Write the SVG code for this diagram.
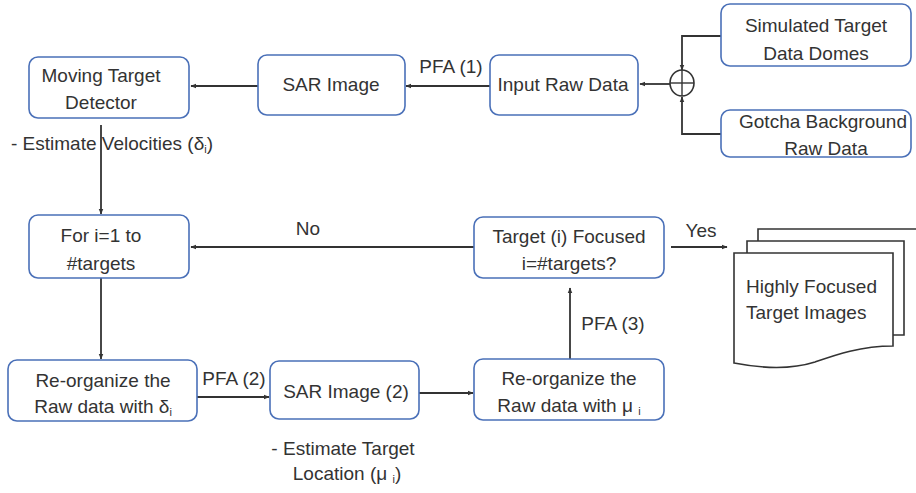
<svg xmlns="http://www.w3.org/2000/svg" width="916" height="493" viewBox="0 0 916 493">
<defs>
<style>
.box{fill:#fff;stroke:#4a70b8;stroke-width:1.6}
.t{font-family:"Liberation Sans",Arial,sans-serif;font-size:19px;fill:#333;text-anchor:middle}
.l{font-family:"Liberation Sans",Arial,sans-serif;font-size:19px;fill:#333}
.c{fill:none;stroke:#333;stroke-width:1.8}
.doc{fill:#fff;stroke:#333;stroke-width:1.6}
.sub{font-size:11px}
</style>
<marker id="ah" viewBox="0 0 10 10" refX="9" refY="5" markerWidth="6" markerHeight="6" orient="auto" markerUnits="userSpaceOnUse">
<path d="M0,1 L10,5 L0,9 z" fill="#333"/>
</marker>
</defs>
<rect width="916" height="493" fill="#fff"/>

<g id="connectors">
<line class="c" x1="258" y1="86" x2="191" y2="86" marker-end="url(#ah)"/>
<line class="c" x1="490" y1="86" x2="406" y2="86" marker-end="url(#ah)"/>
<line class="c" x1="670" y1="84" x2="640" y2="84" marker-end="url(#ah)"/>
<polyline class="c" points="721,36 682,36 682,70" marker-end="url(#ah)"/>
<polyline class="c" points="721,134 682,134 682,97" marker-end="url(#ah)"/>
<line class="c" x1="101" y1="125" x2="101" y2="214" marker-end="url(#ah)"/>
<line class="c" x1="101" y1="278" x2="101" y2="359" marker-end="url(#ah)"/>
<line class="c" x1="197" y1="397" x2="269" y2="397" marker-end="url(#ah)"/>
<line class="c" x1="419" y1="393" x2="473" y2="393" marker-end="url(#ah)"/>
<line class="c" x1="570" y1="359" x2="570" y2="288" marker-end="url(#ah)"/>
<line class="c" x1="474" y1="247" x2="191" y2="247" marker-end="url(#ah)"/>
<line class="c" x1="671" y1="247" x2="727" y2="247" marker-end="url(#ah)"/>
<text class="t" x="451" y="73">PFA (1)</text>
<text class="t" x="234" y="385">PFA (2)</text>
<text class="t" x="613" y="330">PFA (3)</text>
<text class="t" x="308" y="235">No</text>
<text class="t" x="701" y="237">Yes</text>
</g>

<g id="sum">
<ellipse cx="682" cy="83" rx="12" ry="13" fill="#fff" stroke="#333" stroke-width="1.6"/>
<line x1="670" y1="83" x2="694" y2="83" stroke="#333" stroke-width="1.4"/>
<line x1="682" y1="70" x2="682" y2="96" stroke="#333" stroke-width="1.4"/>
</g>

<g id="moving-target-detector">
<rect class="box" x="29" y="57" width="160" height="61" rx="9"/>
<text class="t" x="101" y="82">Moving Target</text>
<text class="t" x="101" y="109">Detector</text>
</g>
<g id="velocities-note">
<text class="l" x="11" y="150">- Estimate Velocities (δ<tspan class="sub" dy="3">i</tspan><tspan dy="-3">)</tspan></text>
</g>

<g id="sar-image">
<rect class="box" x="258" y="55" width="147" height="60" rx="9"/>
<text class="t" x="331" y="91">SAR Image</text>
</g>

<g id="input-raw-data">
<rect class="box" x="490" y="55" width="148" height="60" rx="9"/>
<text class="t" x="563" y="91">Input Raw Data</text>
</g>

<g id="simulated-target">
<rect class="box" x="721" y="4" width="190" height="62" rx="9"/>
<text class="t" x="816" y="32">Simulated Target</text>
<text class="t" x="816" y="60">Data Domes</text>
</g>

<g id="gotcha-background">
<rect class="box" x="721" y="110" width="190" height="47" rx="9"/>
<text class="t" x="823" y="128">Gotcha Background</text>
<text class="t" x="826" y="155">Raw Data</text>
</g>

<g id="for-loop">
<rect class="box" x="29" y="215" width="160" height="63" rx="9"/>
<text class="t" x="101" y="242">For i=1 to</text>
<text class="t" x="101" y="270">#targets</text>
</g>

<g id="target-focused">
<rect class="box" x="474" y="217" width="190" height="61" rx="9"/>
<text class="t" x="569" y="243">Target (i) Focused</text>
<text class="t" x="569" y="270">i=#targets?</text>
</g>

<g id="reorganize-delta">
<rect class="box" x="8" y="360" width="189" height="61" rx="9"/>
<text class="t" x="103" y="387">Re-organize the</text>
<text class="t" x="103" y="413">Raw data with δ<tspan class="sub" dy="3">i</tspan></text>
</g>

<g id="sar-image-2">
<rect class="box" x="270" y="361" width="149" height="58" rx="9"/>
<text class="t" x="346" y="398">SAR Image (2)</text>
</g>
<g id="location-note">
<text class="t" x="343" y="455">- Estimate Target</text>
<text class="t" x="347" y="480">Location (μ <tspan class="sub" dy="3">i</tspan><tspan dy="-3">)</tspan></text>
</g>

<g id="reorganize-mu">
<rect class="box" x="474" y="359" width="190" height="61" rx="9"/>
<text class="t" x="569" y="385">Re-organize the</text>
<text class="t" x="569" y="412">Raw data with μ <tspan class="sub" dy="3">i</tspan></text>
</g>

<g id="focused-images">
<path class="doc" d="M758,323 L758,229 L920,229 L920,323"/>
<path class="doc" d="M747,335 L747,241 L904,241 L904,335 Z"/>
<path class="doc" d="M734,363 L734,253 L893,253 L893,346 C860,346 835,355 815,362 C790,370 760,368 734,363 Z"/>
<text class="l" x="746" y="293">Highly Focused</text>
<text class="l" x="746" y="319">Target Images</text>
</g>
</svg>
